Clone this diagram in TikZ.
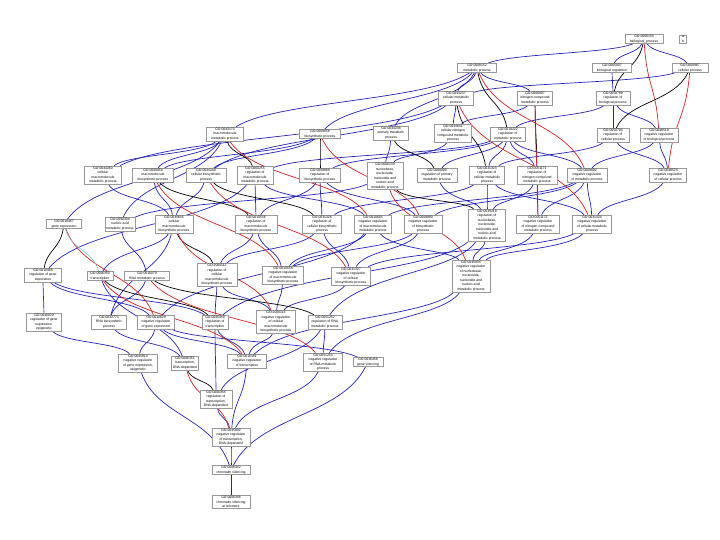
\documentclass[tikz,border=0pt]{standalone}
\usepackage{fontspec}
\setmainfont{Liberation Sans}
\usetikzlibrary{backgrounds,calc}
\definecolor{isacol}{RGB}{35,35,185}
\definecolor{negcol}{RGB}{210,35,35}
\definecolor{pofcol}{RGB}{120,200,220}
\tikzset{
  gobox/.style={draw=gray!80, fill=white, line width=0.5pt, align=center, inner sep=0.8pt,
    font=\fontsize{3.4}{4.5}\selectfont},
  isa/.style={isacol, line width=0.7pt},
  regl/.style={black, line width=0.7pt},
  negl/.style={negcol, line width=0.7pt},
  pofl/.style={pofcol, line width=0.6pt}
}
\newcommand\gn[5]{\node[gobox, minimum width=#4pt] (#1) at (#2,#3) {#5};}
\newcommand\ed[3]{\draw[#1] let \p1=(#2.center), \p2=(#3.center), \n1={0.5*(\y2-\y1)}, \n2={0.2*(\x2-\x1)} in
  (#2) .. controls ({\x1+\n2},{\y1+\n1}) and ({\x2-\n2},{\y2-\n1}) .. (#3);}
\begin{document}
\begin{tikzpicture}[x=1pt,y=-1pt]
\useasboundingbox (0,0) rectangle (720,540);
% row 0
\gn{bp}{644}{39}{38}{GO:0008150\\biological\_process}
\node[gobox, minimum width=7pt] (leg) at (683,39) {a\\b};
% row 1
\gn{mp}{477}{68}{39}{GO:0008152\\metabolic process}
\gn{breg}{612}{68}{39}{GO:0065007\\biological regulation}
\gn{cp}{690}{68}{36}{GO:0009987\\cellular process}
% row 2
\gn{cmp}{456}{98}{35}{GO:0044237\\cellular metabolic\\process}
\gn{ncmp}{535}{98}{35}{GO:0006807\\nitrogen compound\\metabolic process}
\gn{rbp}{613}{98}{34}{GO:0050789\\regulation of\\biological process}
% row 3
\gn{mmp}{225}{134}{37}{GO:0043170\\macromolecule\\metabolic process}
\gn{bsp}{320}{134}{41}{GO:0009058\\biosynthetic process}
\gn{pmp}{391}{133}{35}{GO:0044238\\primary metabolic\\process}
\gn{cncmp}{453}{133}{37}{GO:0034641\\cellular nitrogen\\compound metabolic\\process}
\gn{rmp}{508}{134}{35}{GO:0019222\\regulation of\\metabolic process}
\gn{rcp}{613}{135}{32}{GO:0050794\\regulation of\\cellular process}
\gn{nrbp}{659}{135}{38}{GO:0048519\\negative regulation\\of biological process}
% row 4
\gn{cmmp}{103}{175}{37}{GO:0044260\\cellular\\macromolecule\\metabolic process}
\gn{mbp}{153}{175}{41}{GO:0009059\\macromolecule\\biosynthetic process}
\gn{cbp}{206}{175}{40}{GO:0044249\\cellular biosynthetic\\process}
\gn{rmmp}{255}{175}{36}{GO:0060255\\regulation of\\macromolecule\\metabolic process}
\gn{rbsp}{320}{175}{41}{GO:0009889\\regulation of\\biosynthetic process}
\gn{nnp}{385}{176}{36}{GO:0006139\\nucleobase,\\nucleoside,\\nucleotide and\\nucleic acid\\metabolic process}
\gn{rpmp}{437}{175}{40}{GO:0080090\\regulation of primary\\metabolic process}
\gn{rcmp}{487}{175}{35}{GO:0031323\\regulation of\\cellular metabolic\\process}
\gn{rncmp}{537}{175}{40}{GO:0051171\\regulation of\\nitrogen compound\\metabolic process}
\gn{nrmp}{587}{175}{40}{GO:0009892\\negative regulation\\of metabolic process}
\gn{nrcp}{668}{175}{37}{GO:0048523\\negative regulation\\of cellular process}
% row 5
\gn{ge}{64}{224}{35}{GO:0010467\\gene expression}
\gn{nam}{120}{224}{30}{GO:0090304\\nucleic acid\\metabolic process}
\gn{cmbp}{174}{224}{38}{GO:0034645\\cellular\\macromolecule\\biosynthetic process}
\gn{rmbp}{256}{224}{42}{GO:0010556\\regulation of\\macromolecule\\biosynthetic process}
\gn{rcbp}{322}{224}{39}{GO:0031326\\regulation of\\cellular biosynthetic\\process}
\gn{nrmmp}{373}{224}{37}{GO:0010605\\negative regulation\\of macromolecule\\metabolic process}
\gn{nrbsp}{423}{224}{38}{GO:0009890\\negative regulation\\of biosynthetic\\process}
\gn{rnnp}{487}{225}{37}{GO:0019219\\regulation of\\nucleobase,\\nucleoside,\\nucleotide and\\nucleic acid\\metabolic process}
\gn{nrncmp}{538}{224}{43}{GO:0051172\\negative regulation\\of nitrogen compound\\metabolic process}
\gn{nrcmp}{592}{224}{39}{GO:0031324\\negative regulation\\of cellular metabolic\\process}
% row 6
\gn{rge}{43}{275}{37}{GO:0010468\\regulation of gene\\expression}
\gn{tr}{100}{276}{26}{GO:0006350\\transcription}
\gn{rna}{147}{276}{45}{GO:0016070\\RNA metabolic process}
\gn{rcmbp}{217}{275}{40}{GO:2000112\\regulation of\\cellular\\macromolecule\\biosynthetic process}
\gn{nrmbp}{283}{275}{41}{GO:0010558\\negative regulation\\of macromolecule\\biosynthetic process}
\gn{nrcbp}{351}{276}{39}{GO:0031327\\negative regulation\\of cellular\\biosynthetic process}
\gn{nrnnp}{471}{276}{38}{GO:0045934\\negative regulation\\of nucleobase,\\nucleoside,\\nucleotide and\\nucleic acid\\metabolic process}
% row 7
\gn{rgee}{44}{322}{35}{GO:0040029\\regulation of gene\\expression,\\epigenetic}
\gn{rnab}{109}{322}{35}{GO:0032774\\RNA biosynthetic\\process}
\gn{nrge}{156}{322}{37}{GO:0010629\\negative regulation\\of gene expression}
\gn{rtr}{215}{322}{26}{GO:0045449\\regulation of\\transcription}
\gn{nrcmbp}{276}{322}{39}{GO:2000113\\negative regulation\\of cellular\\macromolecule\\biosynthetic process}
\gn{rrna}{325}{322}{34}{GO:0051252\\regulation of RNA\\metabolic process}
% row 8
\gn{nrgee}{138}{363}{39}{GO:0045814\\negative regulation\\of gene expression,\\epigenetic}
\gn{trd}{185}{363}{27}{GO:0006351\\transcription,\\DNA-dependent}
\gn{nrtr}{247}{361}{39}{GO:0016481\\negative regulation\\of transcription}
\gn{nrrna}{323}{362}{39}{GO:0051253\\negative regulation\\of RNA metabolic\\process}
\gn{gs}{368}{362}{30}{GO:0016458\\gene silencing}
% bottom
\gn{rtrd}{216}{399}{32}{GO:0006355\\regulation of\\transcription,\\DNA-dependent}
\gn{nrtrd}{231}{437}{38}{GO:0045892\\negative regulation\\of transcription,\\DNA-dependent}
\gn{cs}{231}{470}{38}{GO:0006342\\chromatin silencing}
\gn{cst}{231}{502}{38}{GO:0006348\\chromatin silencing\\at telomere}

\begin{pgfonlayer}{background}
\foreach \a/\b in {breg/bp, mp/bp, cp/bp, rbp/breg, rcp/rbp, nrbp/rbp, nrcp/rcp, nrcp/nrbp,
  cmp/mp, cmp/cp, ncmp/mp, mmp/mp, pmp/mp, bsp/mp, cncmp/cmp, cncmp/ncmp, rmp/rbp,
  cmmp/mmp, cmmp/cmp, mbp/mmp, mbp/bsp, cbp/bsp, cbp/cmp, rmmp/rmp, rbsp/rmp,
  nnp/pmp, nnp/cncmp, rpmp/rmp, rcmp/rmp, rcmp/rcp, rncmp/rmp, nrmp/rmp, nrmp/nrbp,
  ge/mmp, nam/nnp, nam/mmp, cmbp/mbp, cmbp/cbp, cmbp/cmmp, rmbp/rbsp, rmbp/rmmp,
  rcbp/rbsp, rcbp/rcmp, nrmmp/rmmp, nrmmp/nrmp, nrbsp/rbsp, nrbsp/nrmp,
  rnnp/rpmp, rnnp/rcmp, rnnp/rncmp, nrncmp/rncmp, nrncmp/nrmp, nrcmp/rcmp, nrcmp/nrmp, nrcmp/nrcp,
  rge/rmmp, tr/cmbp, rna/nam, rcmbp/rmbp, rcmbp/rcbp, nrmbp/rmbp, nrmbp/nrbsp, nrmbp/nrmmp,
  nrcbp/rcbp, nrcbp/nrbsp, nrcbp/nrcmp, nrnnp/rnnp, nrnnp/nrncmp, nrnnp/nrcmp, nrnnp/nrmmp,
  rgee/rge, rnab/rna, rnab/cmbp, nrge/rge, nrge/nrmmp, rtr/rge, rtr/rcmbp, rtr/rnnp,
  nrcmbp/rcmbp, nrcmbp/nrmbp, nrcmbp/nrcbp, rrna/rnnp, nrgee/rgee, nrgee/nrge,
  nrtr/rtr, nrtr/nrge, nrtr/nrcmbp, nrtr/nrnnp, trd/tr, trd/rnab, nrrna/rrna, nrrna/nrnnp,
  gs/nrge, rtrd/rtr, rtrd/rrna, nrtrd/rtrd, nrtrd/nrtr, nrtrd/nrrna,
  cs/nrgee, cs/gs, cs/nrtrd, cst/cs}
  {\ed{isa}{\a}{\b}}
\foreach \a/\b in {rbp/bp, rcp/cp, rmp/mp, rmmp/mmp, rbsp/bsp, rpmp/pmp, rcmp/cmp, rncmp/ncmp,
  rmbp/mbp, rcbp/cbp, rnnp/nnp, rge/ge, rcmbp/cmbp, rtr/tr, rrna/rna, rtrd/trd}
  {\ed{regl}{\a}{\b}}
\foreach \a/\b in {nrbp/bp, nrcp/cp, nrmp/mp, nrmmp/mmp, nrbsp/bsp, nrncmp/ncmp, nrcmp/cmp,
  nrnnp/nnp, nrge/ge, nrmbp/mbp, nrcbp/cbp, nrcmbp/cmbp, nrtr/tr, nrrna/rna, nrtrd/trd}
  {\ed{negl}{\a}{\b}}
\ed{pofl}{tr}{ge}
\end{pgfonlayer}
\end{tikzpicture}
\end{document}
